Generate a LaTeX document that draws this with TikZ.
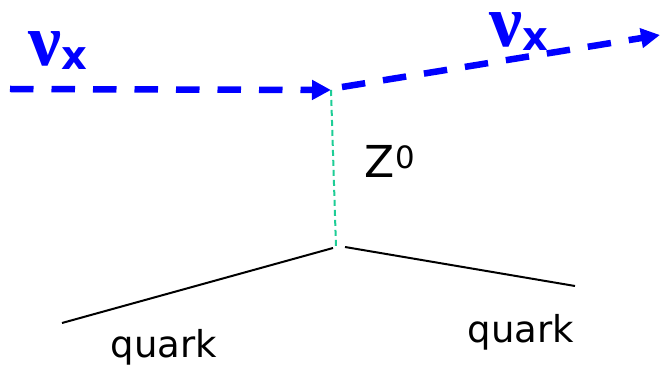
\documentclass[tikz,border=0pt]{standalone}
\usepackage{fontspec}
\setmainfont{DejaVu Sans}
\newfontfamily\nufont{Liberation Serif}
\usetikzlibrary{arrows.meta}
\definecolor{nublue}{RGB}{0,0,255}
\definecolor{zgreen}{RGB}{30,205,150}
\tikzset{
  neutrino/.style={draw=nublue, line width=6.5pt, dash pattern=on 23.5pt off 18pt,
    -{Triangle[length=19pt,width=19pt]}, nublue},
  boson/.style={draw=zgreen, line width=2pt, dash pattern=on 6pt off 4pt},
  quarkline/.style={draw=black, line width=2pt},
  nulabel/.style={text=nublue, inner sep=0pt},
  plainlabel/.style={text=black, inner sep=0pt, font=\fontsize{37}{40}\selectfont},
}
\newcommand{\nux}{{\nufont\bfseries\fontsize{74}{76}\selectfont ν}\raisebox{-0.4em}{\bfseries\fontsize{40}{42}\selectfont x}}
\begin{document}
\begin{tikzpicture}[x=1pt,y=-1pt]
\useasboundingbox[fill=white] (0,0) rectangle (662,371);
% coordinates
\coordinate (inStart) at (10,89);
\coordinate (v1) at (331,90);
\coordinate (outStart) at (342,87);
\coordinate (outEnd) at (660,35);
\coordinate (v2) at (336,247);
\coordinate (qL0) at (333,248);
\coordinate (qL1) at (62,323);
\coordinate (qR0) at (345,247);
\coordinate (qR1) at (575,286);
% lines
\draw[boson] (v1) -- (v2);
\draw[neutrino] (inStart) -- (v1);
\draw[neutrino] (outStart) -- (outEnd);
\draw[quarkline] (qL0) -- (qL1);
\draw[quarkline] (qR0) -- (qR1);
% labels
\node[nulabel] (nuIn) at (58,51) {\nux};
\node[nulabel] (nuOut) at (519,32) {\nux};
\node[plainlabel, font=\fontsize{44}{46}\selectfont] (zlabel) at (390,161) {Z\textsuperscript{0}};
\node[plainlabel] (quarkL) at (164,347) {quark};
\node[plainlabel] (quarkR) at (521,332) {quark};
\end{tikzpicture}
\end{document}
